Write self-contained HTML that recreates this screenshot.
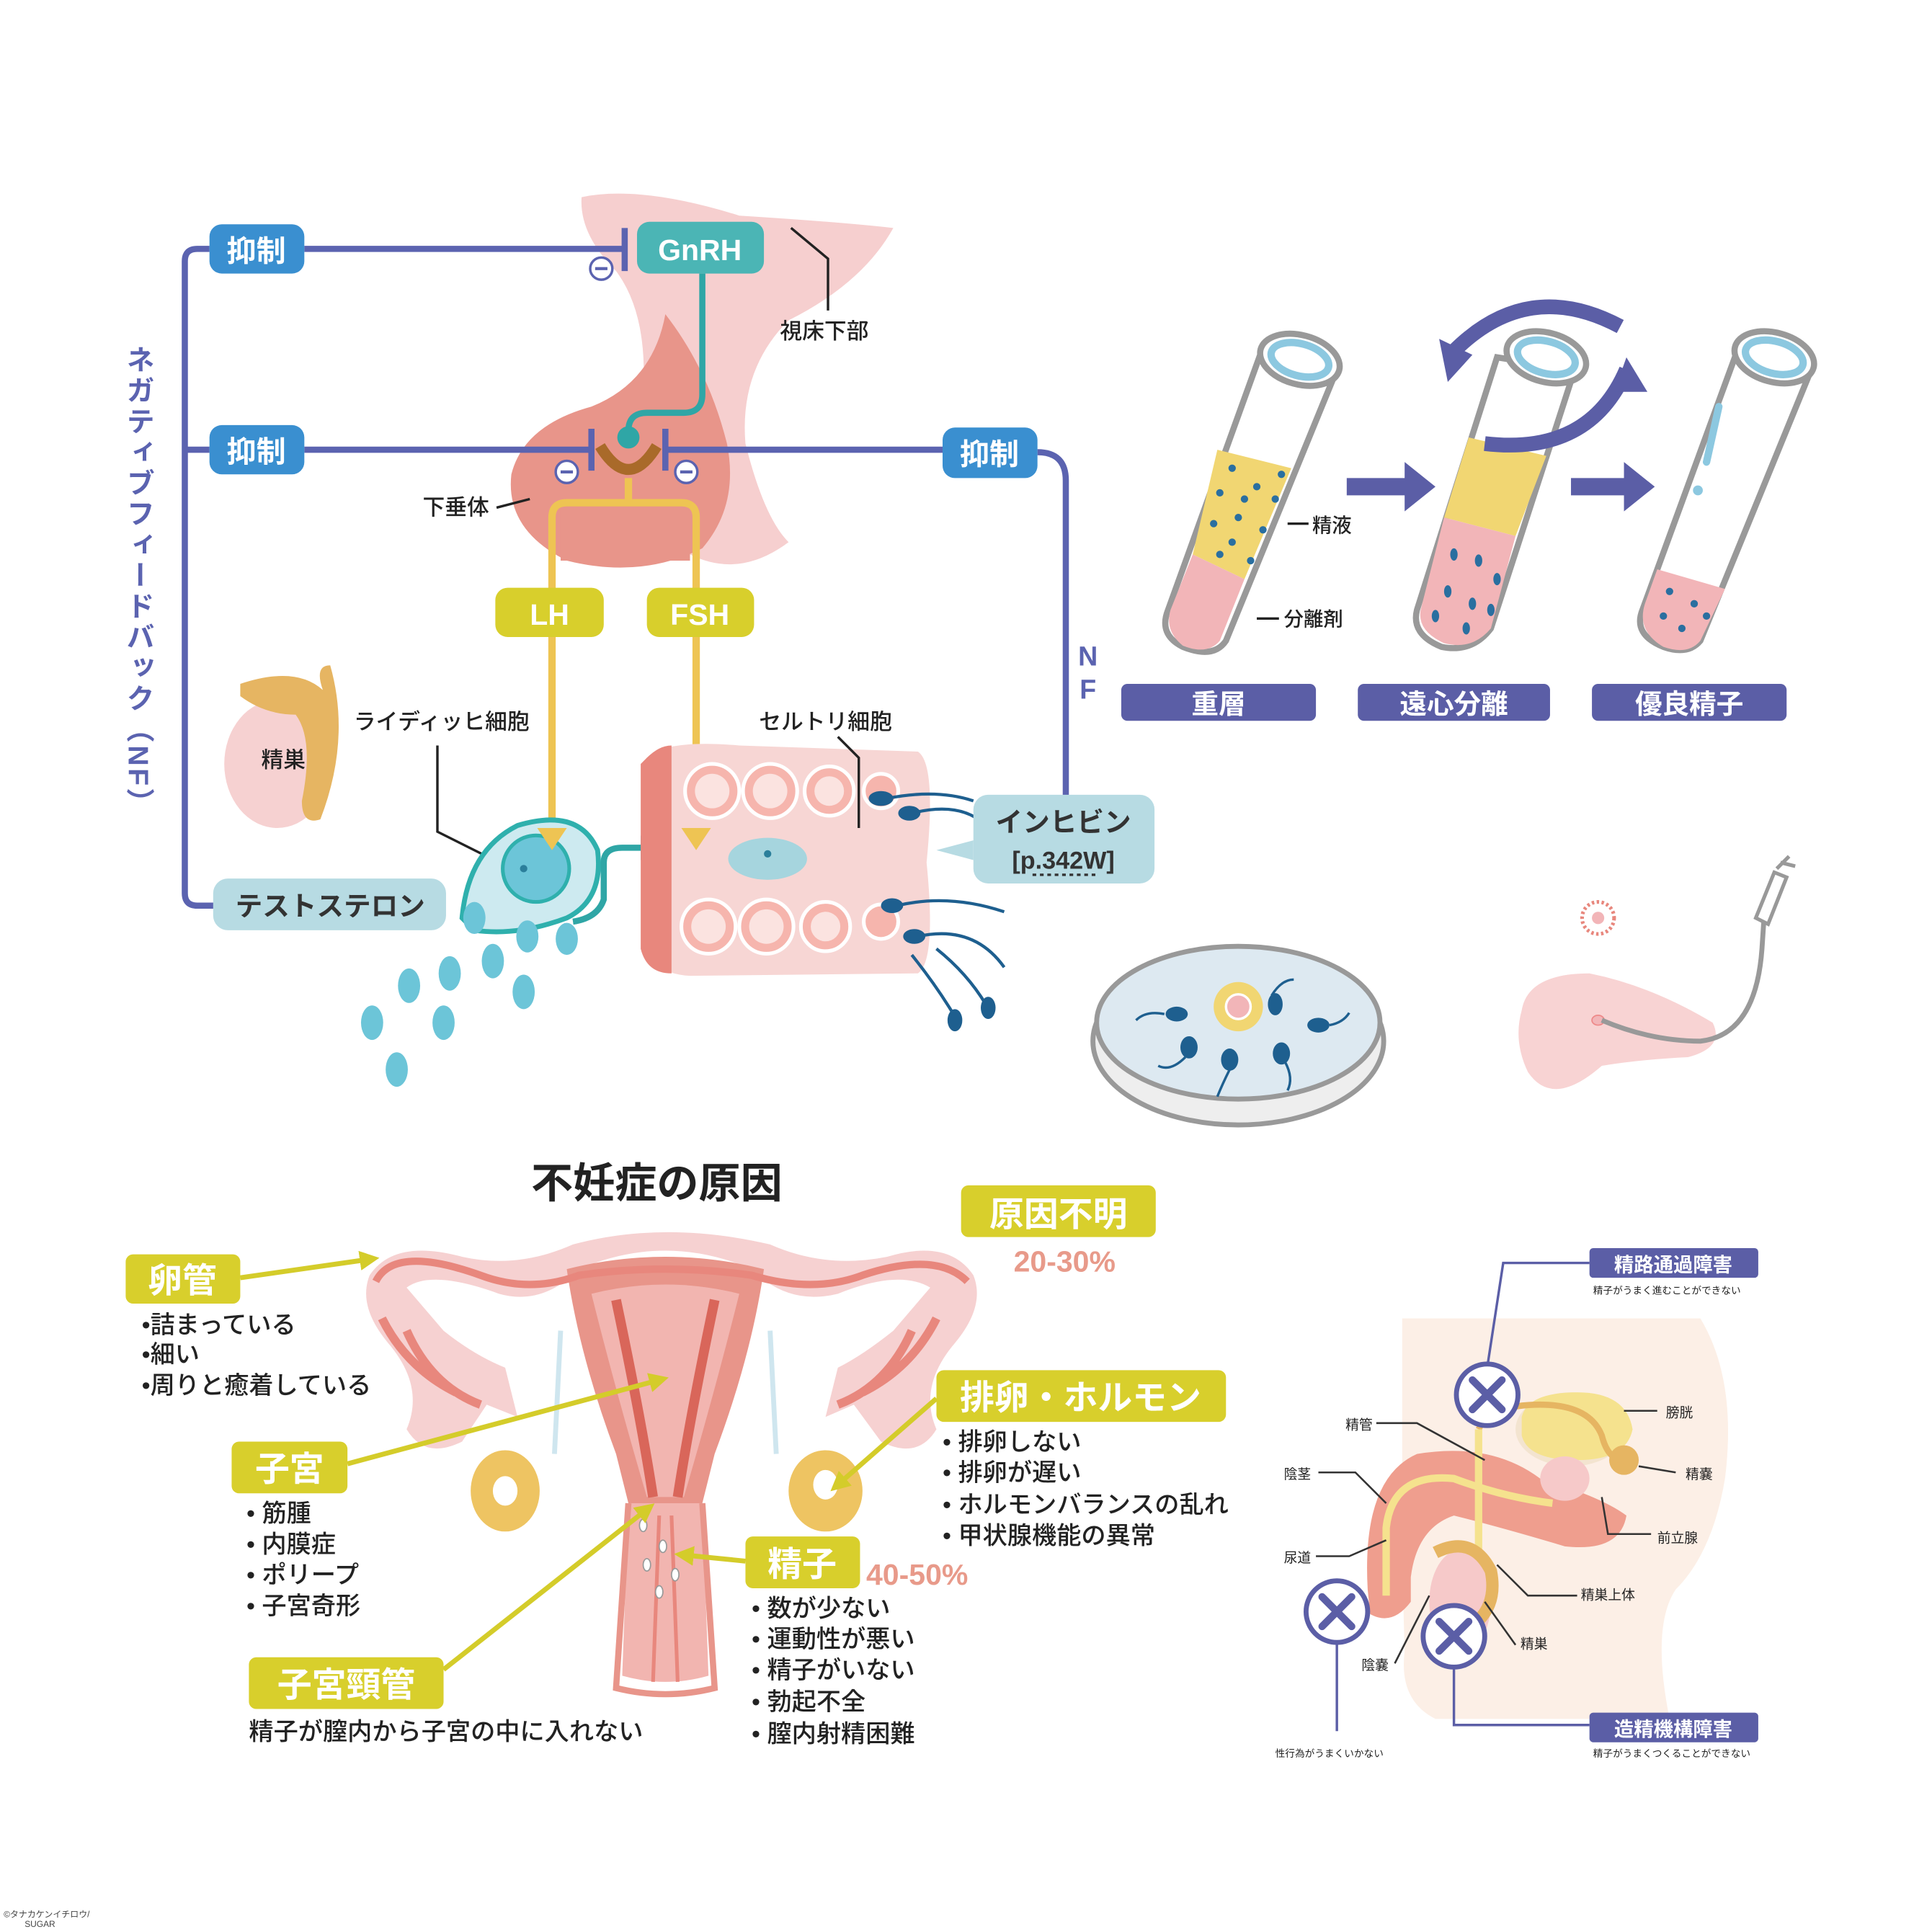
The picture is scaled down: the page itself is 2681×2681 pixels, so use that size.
<!DOCTYPE html>
<html><head><meta charset="utf-8">
<style>
html,body{margin:0;padding:0;background:#fff;}
svg{display:block;}
text{font-family:"Liberation Sans","Noto Sans CJK JP",sans-serif;}
.m{font-weight:500;}
</style></head>
<body>
<svg width="2681" height="2681" viewBox="0 0 1568 1568" xmlns="http://www.w3.org/2000/svg">
<defs>
<marker id="ga" viewBox="0 0 10 10" refX="5" refY="5" markerWidth="4" markerHeight="4" orient="auto"><path d="M0,0 L10,5 L0,10 z" fill="#d4cc2a"/></marker>
<marker id="ta" viewBox="0 0 10 10" refX="5" refY="5" markerWidth="4" markerHeight="4" orient="auto"><path d="M0,0 L10,5 L0,10 z" fill="#2fa6a6"/></marker>
</defs>
<rect width="1568" height="1568" fill="#fff"/>

<!-- hypothalamus -->
<path d="M472,160 Q520,150 600,175 Q680,180 725,185 Q700,230 640,260 Q600,300 605,360 Q620,420 640,440 Q600,470 560,450 Q520,420 520,340 Q530,260 500,220 Q470,190 472,160 z" fill="#f6cfcf"/>
<!-- pituitary -->
<path d="M540,255 Q575,300 590,360 Q600,410 570,445 Q520,470 460,455 Q410,430 415,385 Q425,345 480,330 Q530,310 540,255 z" fill="#e8958a"/>
<path d="M455,410 L560,410 L560,455 L455,455 z" fill="#e8958a"/>

<!-- negative feedback lines -->
<g stroke="#5b63b0" stroke-width="5" fill="none">
<path d="M247,202 L507,202"/><path d="M507,185 L507,220"/>
<path d="M170,202 L160,202 Q150,202 150,212 L150,725 Q150,735 160,735 L175,735"/>
<path d="M150,365 L170,365"/>
<path d="M247,365 L480,365"/><path d="M480,348 L480,382"/>
<path d="M540,348 L540,382"/><path d="M540,365 L765,365"/>
<path d="M842,367 Q865,367 865,390 L865,650 Q865,660 855,660 L840,660"/>
</g>
<g fill="#fff" stroke="#5b63b0" stroke-width="2">
<circle cx="488" cy="218" r="9"/><circle cx="460" cy="383" r="9"/><circle cx="557" cy="383" r="9"/>
</g>
<g stroke="#5b63b0" stroke-width="2.5"><path d="M483,218 L493,218"/><path d="M455,383 L465,383"/><path d="M552,383 L562,383"/></g>

<!-- teal GnRH line -->
<path d="M570,222 L570,320 Q570,335 555,335 L525,335 Q510,335 510,350" stroke="#2fa6a6" stroke-width="5" fill="none"/>
<path d="M487,362 Q510,400 533,362" stroke="#a96a2a" stroke-width="9" fill="none"/>
<circle cx="510" cy="355" r="9" fill="#2fa6a6"/>
<!-- yellow LH/FSH -->
<g stroke="#eec453" stroke-width="6" fill="none">
<path d="M510,388 L510,408"/>
<path d="M448,672 L448,420 Q448,408 460,408 L553,408 Q565,408 565,420 L565,672"/>
</g>

<!-- boxes -->
<rect x="170" y="182" width="77" height="40" rx="10" fill="#3a8fd0"/>
<text x="208" y="212" font-size="24" font-weight="bold" fill="#fff" text-anchor="middle">抑制</text>
<rect x="170" y="345" width="77" height="40" rx="10" fill="#3a8fd0"/>
<text x="208" y="375" font-size="24" font-weight="bold" fill="#fff" text-anchor="middle">抑制</text>
<rect x="765" y="347" width="77" height="41" rx="10" fill="#3a8fd0"/>
<text x="803" y="377" font-size="24" font-weight="bold" fill="#fff" text-anchor="middle">抑制</text>
<rect x="517" y="180" width="103" height="42" rx="10" fill="#4bb5b5"/>
<text x="568" y="211" font-size="24" font-weight="bold" fill="#fff" text-anchor="middle">GnRH</text>
<rect x="402" y="477" width="88" height="40" rx="10" fill="#d8cf2c"/>
<text x="446" y="507" font-size="24" font-weight="bold" fill="#fff" text-anchor="middle">LH</text>
<rect x="525" y="477" width="87" height="40" rx="10" fill="#d8cf2c"/>
<text x="568" y="507" font-size="24" font-weight="bold" fill="#fff" text-anchor="middle">FSH</text>

<!-- labels -->
<path d="M642,185 L672,210 L672,252" stroke="#222" stroke-width="2" fill="none"/>
<text x="633" y="275" font-size="18" fill="#222" class="m">視床下部</text>
<text x="343" y="418" font-size="18" fill="#222" class="m">下垂体</text>
<path d="M403,412 L430,405" stroke="#222" stroke-width="2"/>
<text transform="translate(112,280)" font-size="23" font-weight="bold" fill="#5b63b0" style="writing-mode:vertical-rl" letter-spacing="2">ネガティブフィードバック（NF）</text>
<text x="883" y="540" font-size="22" fill="#5b63b0" font-weight="bold" text-anchor="middle">N</text>
<text x="883" y="567" font-size="22" fill="#5b63b0" font-weight="bold" text-anchor="middle">F</text>

<!-- testis -->
<ellipse cx="225" cy="620" rx="43" ry="52" fill="#f6d1d1"/>
<path d="M195,555 Q240,540 262,560 Q255,540 268,540 Q285,600 260,665 Q245,670 245,650 Q255,600 240,580 Q215,580 195,565 z" fill="#e6b562"/>
<text x="212" y="623" font-size="18" fill="#222" class="m">精巣</text>
<text x="287" y="592" font-size="18" fill="#222" class="m">ライディッヒ細胞</text>
<path d="M355,605 L355,675 L415,705" stroke="#222" stroke-width="2" fill="none"/>

<!-- Leydig cell -->
<path d="M375,745 Q380,690 420,670 Q470,655 485,690 Q490,730 460,745 Q420,760 385,755 z" fill="#cdeaf0" stroke="#2fb0ad" stroke-width="4"/>
<circle cx="435" cy="705" r="27" fill="#6cc5d8" stroke="#2fb0ad" stroke-width="3"/>
<circle cx="425" cy="705" r="3" fill="#2b7f9b"/>
<path d="M465,748 Q485,745 490,730 L490,700 Q490,688 505,688 L530,688" stroke="#2fa6a6" stroke-width="5" fill="none" marker-end="url(#ta)"/>
<!-- droplets -->
<g fill="#6cc5d8">
<ellipse cx="385" cy="745" rx="9" ry="13"/><ellipse cx="428" cy="760" rx="9" ry="13"/><ellipse cx="460" cy="762" rx="9" ry="13"/>
<ellipse cx="400" cy="780" rx="9" ry="14"/><ellipse cx="365" cy="790" rx="9" ry="14"/><ellipse cx="332" cy="800" rx="9" ry="14"/>
<ellipse cx="425" cy="805" rx="9" ry="14"/><ellipse cx="360" cy="830" rx="9" ry="14"/><ellipse cx="302" cy="830" rx="9" ry="14"/>
<ellipse cx="322" cy="868" rx="9" ry="14"/>
</g>
<rect x="173" y="713" width="189" height="42" rx="12" fill="#b7dbe3"/>
<text x="268" y="743" font-size="22" font-weight="bold" fill="#333" text-anchor="middle">テストステロン</text>

<!-- seminiferous tubule -->
<path d="M525,615 Q540,600 600,605 L745,610 Q760,620 752,700 Q760,780 745,790 L560,792 Q525,790 525,760 z" fill="#f7d6d4"/>
<path d="M525,615 Q535,605 545,605 L545,790 Q525,790 520,770 L520,620 z" fill="#e8877d"/>
<g fill="#f6b5ad" stroke="#fff" stroke-width="3">
<circle cx="578" cy="642" r="22"/><circle cx="625" cy="642" r="22"/><circle cx="673" cy="642" r="20"/><circle cx="715" cy="642" r="14"/>
<circle cx="575" cy="752" r="22"/><circle cx="622" cy="752" r="22"/><circle cx="670" cy="752" r="20"/><circle cx="715" cy="748" r="14"/>
</g>
<g fill="#fbe3e0"><circle cx="578" cy="642" r="14"/><circle cx="625" cy="642" r="14"/><circle cx="673" cy="642" r="12"/><circle cx="575" cy="752" r="14"/><circle cx="622" cy="752" r="14"/><circle cx="670" cy="752" r="12"/></g>
<ellipse cx="623" cy="697" rx="32" ry="17" fill="#a6d5de"/><circle cx="623" cy="693" r="3" fill="#2b7f9b"/>
<!-- yellow arrowheads on top -->
<path d="M436,672 L460,672 L448,690 z" fill="#eec453"/>
<path d="M553,672 L577,672 L565,690 z" fill="#eec453"/>
<text x="616" y="592" font-size="18" fill="#222" class="m">セルトリ細胞</text>
<path d="M680,598 L697,615 L697,672" stroke="#222" stroke-width="2" fill="none"/>
<!-- sperm -->
<g stroke="#1e5f8f" stroke-width="2.5" fill="none">
<path d="M720,648 Q760,640 790,650"/><path d="M740,660 Q780,650 800,670"/>
<path d="M728,735 Q770,725 815,740"/><path d="M745,760 Q790,750 815,785"/>
<path d="M740,775 Q760,800 775,825"/><path d="M760,770 Q785,790 800,815"/>
</g>
<g fill="#1e5f8f">
<ellipse cx="715" cy="648" rx="10" ry="6"/><ellipse cx="738" cy="660" rx="9" ry="6"/>
<ellipse cx="724" cy="735" rx="9" ry="6"/><ellipse cx="742" cy="760" rx="9" ry="6"/>
<ellipse cx="775" cy="828" rx="6" ry="9"/><ellipse cx="802" cy="818" rx="6" ry="9"/>
</g>
<path d="M790,682 L760,690 L790,698 z" fill="#b7dbe3"/>
<rect x="790" y="645" width="147" height="72" rx="12" fill="#b7dbe3"/>
<text x="863" y="675" font-size="22" font-weight="bold" fill="#333" text-anchor="middle">インヒビン</text>
<text x="863" y="705" font-size="20" font-weight="bold" fill="#333" text-anchor="middle">[p.342W]</text>
<path d="M838,710 L890,710" stroke="#333" stroke-width="2" stroke-dasharray="3,3"/>

<!-- tubes -->
<g>
<path d="M1022,290 L1085,300 L995,520 Q985,535 960,525 Q940,515 948,495 z" fill="#fff" stroke="#999" stroke-width="5"/>
<path d="M988,365 L1048,380 L1010,470 L968,450 z" fill="#f1d672"/>
<g fill="#2a6fa0"><circle cx="1000" cy="380" r="3"/><circle cx="1020" cy="395" r="3"/><circle cx="990" cy="400" r="3"/><circle cx="1035" cy="405" r="3"/><circle cx="1005" cy="420" r="3"/><circle cx="985" cy="425" r="3"/><circle cx="1025" cy="430" r="3"/><circle cx="1000" cy="440" r="3"/><circle cx="1015" cy="455" r="3"/><circle cx="990" cy="450" r="3"/><circle cx="1040" cy="385" r="3"/><circle cx="1010" cy="405" r="3"/></g>
<path d="M968,450 L1010,470 L990,520 Q980,532 960,524 Q945,512 950,495 z" fill="#f2b5b8"/>
<ellipse cx="1055" cy="292" rx="33" ry="20" fill="#fff" stroke="#999" stroke-width="5" transform="rotate(15 1055 292)"/>
<ellipse cx="1055" cy="292" rx="24" ry="13" fill="none" stroke="#8cc8e0" stroke-width="6" transform="rotate(15 1055 292)"/>
</g>
<g>
<path d="M1215,290 L1278,300 L1210,510 Q1195,530 1170,525 Q1145,515 1150,495 z" fill="#fff" stroke="#999" stroke-width="5"/>
<path d="M1192,355 L1255,370 L1230,435 L1172,420 z" fill="#f1d672"/>
<path d="M1172,420 L1230,435 L1210,510 Q1195,528 1172,522 Q1150,512 1153,495 z" fill="#f2b5b8"/>
<g fill="#2a6fa0"><ellipse cx="1180" cy="450" rx="3" ry="5"/><ellipse cx="1200" cy="455" rx="3" ry="5"/><ellipse cx="1215" cy="470" rx="3" ry="5"/><ellipse cx="1175" cy="480" rx="3" ry="5"/><ellipse cx="1195" cy="490" rx="3" ry="5"/><ellipse cx="1165" cy="500" rx="3" ry="5"/><ellipse cx="1190" cy="510" rx="3" ry="5"/><ellipse cx="1210" cy="495" rx="3" ry="5"/></g>
<ellipse cx="1255" cy="290" rx="33" ry="20" fill="#fff" stroke="#999" stroke-width="5" transform="rotate(15 1255 290)"/>
<ellipse cx="1255" cy="290" rx="24" ry="13" fill="none" stroke="#8cc8e0" stroke-width="6" transform="rotate(15 1255 290)"/>
<path d="M1180,285 Q1240,225 1315,265" stroke="#5b5ea6" stroke-width="12" fill="none"/>
<path d="M1175,310 L1168,275 L1195,288 z" fill="#5b5ea6"/>
<path d="M1320,300 Q1290,370 1205,360" stroke="#5b5ea6" stroke-width="12" fill="none"/>
<path d="M1337,318 L1320,290 L1310,318 z" fill="#5b5ea6"/>
</g>
<g>
<path d="M1408,290 L1470,300 L1380,520 Q1370,532 1350,525 Q1325,515 1333,495 z" fill="#fff" stroke="#999" stroke-width="5"/>
<path d="M1345,462 L1400,478 L1380,520 Q1370,532 1350,525 Q1328,512 1335,490 z" fill="#f2b5b8"/>
<g fill="#2a6fa0"><circle cx="1355" cy="480" r="3"/><circle cx="1375" cy="490" r="3"/><circle cx="1350" cy="500" r="3"/><circle cx="1365" cy="510" r="3"/><circle cx="1385" cy="500" r="3"/></g>
<path d="M1395,330 L1385,375" stroke="#8cc8e0" stroke-width="6" stroke-linecap="round"/>
<circle cx="1378" cy="398" r="4" fill="#8cc8e0"/>
<ellipse cx="1440" cy="290" rx="33" ry="20" fill="#fff" stroke="#999" stroke-width="5" transform="rotate(15 1440 290)"/>
<ellipse cx="1440" cy="290" rx="24" ry="13" fill="none" stroke="#8cc8e0" stroke-width="6" transform="rotate(15 1440 290)"/>
</g>
<path d="M1093,388 L1140,388 L1140,375 L1165,395 L1140,415 L1140,402 L1093,402 z" fill="#5b5ea6"/>
<path d="M1275,388 L1318,388 L1318,375 L1343,395 L1318,415 L1318,402 L1275,402 z" fill="#5b5ea6"/>
<path d="M1045,425 L1062,425" stroke="#222" stroke-width="2"/><text x="1065" y="432" font-size="16" fill="#222" class="m">精液</text>
<path d="M1020,502 L1038,502" stroke="#222" stroke-width="2"/><text x="1042" y="508" font-size="16" fill="#222" class="m">分離剤</text>
<rect x="910" y="555" width="158" height="30" rx="5" fill="#5b5ea6"/><text x="989" y="579" font-size="22" font-weight="bold" fill="#fff" text-anchor="middle">重層</text>
<rect x="1102" y="555" width="156" height="30" rx="5" fill="#5b5ea6"/><text x="1180" y="579" font-size="22" font-weight="bold" fill="#fff" text-anchor="middle">遠心分離</text>
<rect x="1292" y="555" width="158" height="30" rx="5" fill="#5b5ea6"/><text x="1371" y="579" font-size="22" font-weight="bold" fill="#fff" text-anchor="middle">優良精子</text>

<!-- petri dish -->
<ellipse cx="1005" cy="845" rx="118" ry="68" fill="#eee" stroke="#999" stroke-width="4"/>
<ellipse cx="1005" cy="830" rx="115" ry="62" fill="#dde9f1" stroke="#999" stroke-width="4"/>
<circle cx="1005" cy="817" r="20" fill="#f1d672"/><circle cx="1005" cy="817" r="10" fill="#f2b5b8" stroke="#fff" stroke-width="2"/>
<g fill="#1e5f8f"><ellipse cx="955" cy="823" rx="9" ry="6"/><ellipse cx="965" cy="850" rx="7" ry="9"/><ellipse cx="998" cy="860" rx="7" ry="9"/><ellipse cx="1040" cy="855" rx="7" ry="9"/><ellipse cx="1070" cy="832" rx="9" ry="6"/><ellipse cx="1035" cy="815" rx="6" ry="9"/></g>
<g stroke="#1e5f8f" stroke-width="2" fill="none"><path d="M945,823 Q930,820 922,828"/><path d="M962,858 Q950,870 940,865"/><path d="M998,868 Q992,880 988,890"/><path d="M1043,862 Q1050,875 1045,885"/><path d="M1079,832 Q1090,830 1095,822"/><path d="M1032,808 Q1040,795 1050,795"/></g>

<!-- uterus + syringe -->
<path d="M1235,820 Q1240,790 1290,790 Q1340,800 1390,830 Q1400,850 1370,858 Q1330,860 1300,865 Q1260,900 1240,870 Q1228,845 1235,820 z" fill="#f8d3d3"/>
<ellipse cx="1297" cy="828" rx="5" ry="4" fill="#f2b5b8" stroke="#e88" stroke-width="1"/>
<path d="M1300,828 Q1340,845 1380,845 Q1425,840 1430,770 L1432,740" stroke="#999" stroke-width="4" fill="none"/>
<path d="M1425,745 L1440,708 L1450,712 L1435,750 z" fill="#fff" stroke="#999" stroke-width="3"/>
<path d="M1442,705 L1452,695 M1445,700 L1457,703" stroke="#999" stroke-width="3"/>
<circle cx="1297" cy="745" r="13" fill="#fff" stroke="#e8877d" stroke-width="3" stroke-dasharray="2,2"/>
<circle cx="1297" cy="745" r="5" fill="#f2b5b8"/>

<!-- Bottom title -->
<text x="533" y="972" font-size="34" font-weight="bold" fill="#222" text-anchor="middle">不妊症の原因</text>

<!-- female uterus -->
<g>
<path d="M300,1035 Q290,1060 315,1090 Q345,1125 330,1160 Q345,1185 375,1170 L395,1140 L420,1150 L410,1110 Q385,1100 360,1080 L330,1045 Q350,1030 405,1050 Q440,1060 470,1030 Q540,1000 610,1030 Q640,1060 680,1050 Q730,1030 755,1045 L725,1080 Q700,1100 680,1110 L670,1150 L693,1140 L715,1170 Q745,1185 760,1160 Q745,1125 775,1090 Q800,1060 790,1035 Q770,1005 720,1020 Q670,1030 625,1010 Q540,990 465,1010 Q420,1030 375,1020 Q320,1005 300,1035 z" fill="#f6d1d1"/>
<path d="M460,1030 Q540,1010 620,1030 Q610,1100 580,1180 L570,1220 L510,1220 L500,1180 Q470,1100 460,1030 z" fill="#e8958a"/>
<path d="M480,1050 Q540,1035 600,1050 Q580,1130 555,1215 L525,1215 Q500,1130 480,1050 z" fill="#f2b5b0"/>
<path d="M500,1055 Q520,1150 530,1215 M580,1055 Q560,1150 550,1215" stroke="#d9665a" stroke-width="8" fill="none"/>
<path d="M305,1040 Q320,1010 390,1035 Q430,1050 470,1035 Q540,1025 610,1035 Q660,1050 700,1035 Q760,1015 785,1040" stroke="#e8877d" stroke-width="6" fill="none"/>
<path d="M310,1070 Q330,1110 370,1130 M330,1080 Q350,1125 390,1140 M760,1070 Q740,1110 700,1130 M740,1080 Q720,1125 680,1140" stroke="#e8877d" stroke-width="7" fill="none"/>
<path d="M510,1220 L570,1220 L575,1360 Q540,1370 505,1360 z" fill="#f2b5b0"/>
<path d="M510,1220 L500,1370 Q540,1380 580,1370 L570,1220" fill="none" stroke="#e8958a" stroke-width="5"/>
<path d="M535,1230 L530,1365 M545,1230 L550,1365" stroke="#e8877d" stroke-width="3"/>
<path d="M455,1080 L450,1180 M625,1080 L630,1180" stroke="#cfe6ef" stroke-width="4"/>
<ellipse cx="410" cy="1210" rx="28" ry="33" fill="#eec462"/><ellipse cx="410" cy="1210" rx="10" ry="12" fill="#fff"/>
<ellipse cx="670" cy="1210" rx="30" ry="33" fill="#eec462"/><ellipse cx="670" cy="1205" rx="10" ry="12" fill="#fff"/>
<g fill="#fff" stroke="#999" stroke-width="1"><ellipse cx="522" cy="1238" rx="3" ry="5"/><ellipse cx="538" cy="1255" rx="3" ry="5"/><ellipse cx="525" cy="1270" rx="3" ry="5"/><ellipse cx="548" cy="1278" rx="3" ry="5"/><ellipse cx="535" cy="1292" rx="3" ry="5"/></g>
</g>
<!-- female labels -->
<g stroke="#d4cc2a" stroke-width="4" fill="none">
<path d="M195,1037 L300,1022" marker-end="url(#ga)"/>
<path d="M282,1188 L535,1120" marker-end="url(#ga)"/>
<path d="M760,1135 L680,1205" marker-end="url(#ga)"/>
<path d="M605,1267 L555,1262" marker-end="url(#ga)"/>
<path d="M360,1355 L525,1225" marker-end="url(#ga)"/>
</g>
<rect x="102" y="1018" width="93" height="40" rx="6" fill="#d8cf2c"/><text x="148" y="1049" font-size="28" font-weight="bold" fill="#fff" text-anchor="middle">卵管</text>
<g font-size="20" fill="#222" class="m"><text x="115" y="1082">•詰まっている</text><text x="115" y="1106">•細い</text><text x="115" y="1131">•周りと癒着している</text></g>
<rect x="188" y="1170" width="94" height="42" rx="6" fill="#d8cf2c"/><text x="235" y="1202" font-size="28" font-weight="bold" fill="#fff" text-anchor="middle">子宮</text>
<g font-size="20" fill="#222" class="m"><text x="200" y="1235">• 筋腫</text><text x="200" y="1260">• 内膜症</text><text x="200" y="1285">• ポリープ</text><text x="200" y="1310">• 子宮奇形</text></g>
<rect x="202" y="1345" width="158" height="42" rx="6" fill="#d8cf2c"/><text x="281" y="1377" font-size="28" font-weight="bold" fill="#fff" text-anchor="middle">子宮頸管</text>
<text x="202" y="1412" font-size="20" fill="#222" class="m">精子が膣内から子宮の中に入れない</text>
<rect x="780" y="962" width="158" height="42" rx="6" fill="#d8cf2c"/><text x="859" y="995" font-size="28" font-weight="bold" fill="#fff" text-anchor="middle">原因不明</text>
<text x="864" y="1032" font-size="24" font-weight="bold" fill="#e89a8a" text-anchor="middle">20-30%</text>
<rect x="760" y="1112" width="235" height="42" rx="6" fill="#d8cf2c"/><text x="877" y="1144" font-size="28" font-weight="bold" fill="#fff" text-anchor="middle">排卵・ホルモン</text>
<g font-size="20" fill="#222" class="m"><text x="765" y="1177">• 排卵しない</text><text x="765" y="1202">• 排卵が遅い</text><text x="765" y="1228">• ホルモンバランスの乱れ</text><text x="765" y="1253">• 甲状腺機能の異常</text></g>
<rect x="605" y="1247" width="93" height="42" rx="6" fill="#d8cf2c"/><text x="651" y="1279" font-size="28" font-weight="bold" fill="#fff" text-anchor="middle">精子</text>
<text x="703" y="1286" font-size="24" font-weight="bold" fill="#e89a8a">40-50%</text>
<g font-size="20" fill="#222" class="m"><text x="610" y="1312">• 数が少ない</text><text x="610" y="1337">• 運動性が悪い</text><text x="610" y="1362">• 精子がいない</text><text x="610" y="1388">• 勃起不全</text><text x="610" y="1414">• 膣内射精困難</text></g>

<!-- male anatomy -->
<path d="M1138,1070 L1380,1070 Q1410,1120 1400,1200 Q1390,1260 1360,1290 Q1340,1320 1355,1395 L1165,1395 Q1135,1380 1140,1340 L1138,1270 z" fill="#fcefe6"/>
<ellipse cx="1275" cy="1160" rx="45" ry="30" fill="#f3e4d0"/>
<path d="M1235,1150 Q1240,1130 1280,1130 Q1320,1130 1325,1160 Q1320,1185 1280,1185 Q1240,1185 1235,1165 z" fill="#f5e28e"/>
<path d="M1110,1290 Q1105,1200 1150,1180 Q1210,1170 1250,1200 Q1300,1215 1320,1230 Q1315,1260 1270,1255 Q1220,1240 1180,1230 Q1150,1240 1145,1280 L1145,1300 Q1130,1320 1112,1310 z" fill="#ef9e8e"/>
<path d="M1125,1295 L1125,1240 Q1130,1195 1180,1200 Q1220,1215 1260,1220" stroke="#f5e28e" stroke-width="6" fill="none"/>
<ellipse cx="1270" cy="1200" rx="20" ry="18" fill="#f6c9c9"/>
<ellipse cx="1318" cy="1185" rx="12" ry="12" fill="#e6b562"/>
<path d="M1200,1160 Q1210,1140 1250,1140 Q1290,1140 1300,1165 Q1305,1185 1318,1185" stroke="#e6b562" stroke-width="5" fill="none"/>
<path d="M1200,1290 L1200,1160" stroke="#f5e28e" stroke-width="6"/>
<ellipse cx="1185" cy="1300" rx="25" ry="42" fill="#f6c9c9"/>
<path d="M1165,1260 Q1195,1245 1210,1275 Q1215,1300 1200,1315" stroke="#e6b562" stroke-width="10" fill="none"/>
<g stroke="#333" stroke-width="1.5" fill="none">
<path d="M1117,1155 L1150,1155 L1205,1185"/><path d="M1070,1195 L1100,1195 L1125,1220"/>
<path d="M1068,1263 L1095,1263 L1125,1250"/><path d="M1132,1350 L1160,1295"/>
<path d="M1318,1145 L1345,1145"/><path d="M1330,1190 L1360,1195"/>
<path d="M1300,1215 L1305,1245 L1340,1245"/><path d="M1215,1270 L1240,1295 L1280,1295"/>
<path d="M1205,1300 L1230,1335"/>
</g>
<g font-size="11" fill="#222">
<text x="1092" y="1160">精管</text><text x="1042" y="1200">陰茎</text><text x="1042" y="1268">尿道</text><text x="1105" y="1355">陰嚢</text>
<text x="1352" y="1150">膀胱</text><text x="1368" y="1200">精嚢</text><text x="1345" y="1252">前立腺</text><text x="1283" y="1298">精巣上体</text><text x="1234" y="1338">精巣</text>
</g>
<g stroke="#5b5ea6" stroke-width="2" fill="none">
<path d="M1207,1110 L1220,1025 L1290,1025"/>
<path d="M1085,1330 L1085,1405"/>
<path d="M1180,1352 L1180,1400 L1290,1400"/>
</g>
<g fill="#fff" stroke="#5b5ea6" stroke-width="4">
<circle cx="1207" cy="1132" r="25"/><circle cx="1085" cy="1308" r="25"/><circle cx="1180" cy="1328" r="25"/>
</g>
<g stroke="#5b5ea6" stroke-width="6" stroke-linecap="round">
<path d="M1195,1120 L1219,1144 M1219,1120 L1195,1144"/>
<path d="M1073,1296 L1097,1320 M1097,1296 L1073,1320"/>
<path d="M1168,1316 L1192,1340 M1192,1316 L1168,1340"/>
</g>
<rect x="1290" y="1013" width="137" height="24" rx="3" fill="#5b5ea6"/><text x="1358" y="1032" font-size="16" font-weight="bold" fill="#fff" text-anchor="middle">精路通過障害</text>
<text x="1293" y="1050" font-size="8" fill="#222">精子がうまく進むことができない</text>
<rect x="1290" y="1390" width="137" height="24" rx="3" fill="#5b5ea6"/><text x="1358" y="1409" font-size="16" font-weight="bold" fill="#fff" text-anchor="middle">造精機構障害</text>
<text x="1293" y="1426" font-size="8" fill="#222">精子がうまくつくることができない</text>
<text x="1035" y="1426" font-size="8" fill="#222">性行為がうまくいかない</text>
<text x="3" y="1556" font-size="7" fill="#444">©タナカケンイチロウ/</text>
<text x="20" y="1564" font-size="7" fill="#444">SUGAR</text>
</svg>
</body></html>
